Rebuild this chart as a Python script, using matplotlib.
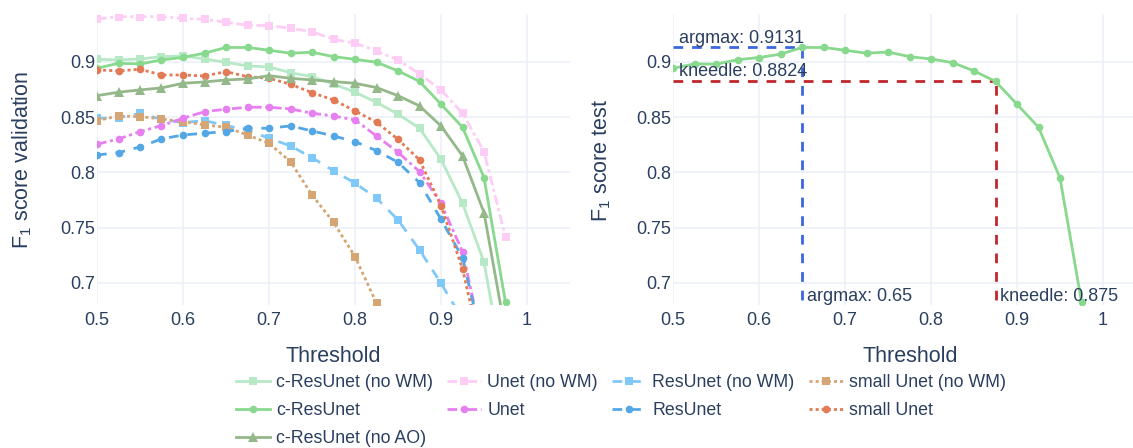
import matplotlib
matplotlib.use("Agg")
import matplotlib.pyplot as plt
from matplotlib.lines import Line2D

plt.rcParams['font.family'] = ['Liberation Sans', 'DejaVu Sans']
plt.rcParams['mathtext.fontset'] = 'custom'
plt.rcParams['mathtext.rm'] = 'Liberation Sans'
plt.rcParams['mathtext.default'] = 'regular'

TXT = '#2a3f5f'
GRID = '#EBF0F8'

thresholds = [0.5, 0.525, 0.55, 0.575, 0.6, 0.625, 0.65, 0.675, 0.7, 0.725,
              0.75, 0.775, 0.8, 0.825, 0.85, 0.875, 0.9, 0.925, 0.95, 0.975]

cresunet_nowm = [0.9024, 0.9018, 0.9027, 0.9048, 0.9054, 0.9027, 0.8997, 0.8964, 0.8955, 0.8903,
                 0.8867, 0.8800, 0.8726, 0.8635, 0.8527, 0.8400, 0.8119, 0.7721, 0.7187, 0.611]
unet_nowm = [0.9389, 0.9410, 0.9410, 0.9410, 0.9395, 0.9386, 0.9360, 0.9332, 0.9329, 0.9305,
             0.9274, 0.9205, 0.9170, 0.9100, 0.9018, 0.8891, 0.8747, 0.8536, 0.8188, 0.7414]
resunet_nowm = [0.8490, 0.8494, 0.8536, 0.8480, 0.8451, 0.8469, 0.8425, 0.8380, 0.8310, 0.8240,
                0.8134, 0.8015, 0.7903, 0.7767, 0.7570, 0.7299, 0.6997, 0.667, 0.60, 0.50]
smallunet_nowm = [0.8469, 0.8511, 0.8505, 0.8484, 0.8460, 0.8430, 0.8409, 0.8339, 0.8264, 0.8097,
                  0.7796, 0.7549, 0.7238, 0.6816, 0.62, 0.55, 0.45, 0.35, 0.25, 0.15]
cresunet = [0.8943, 0.8988, 0.8982, 0.9018, 0.9042, 0.9079, 0.9131, 0.9131, 0.9106, 0.9079,
            0.9088, 0.9048, 0.9024, 0.8997, 0.8919, 0.8824, 0.8617, 0.8409, 0.7953, 0.6825]
unet = [0.8255, 0.8303, 0.8369, 0.8424, 0.8490, 0.8550, 0.8572, 0.8590, 0.8590, 0.8575,
        0.8536, 0.8511, 0.8475, 0.8330, 0.8183, 0.8007, 0.7720, 0.7283, 0.64, 0.55]
resunet = [0.8158, 0.8179, 0.8231, 0.8303, 0.8339, 0.8355, 0.8369, 0.8400, 0.8400, 0.8421,
           0.8376, 0.8330, 0.8279, 0.8197, 0.8092, 0.7908, 0.7576, 0.7229, 0.64, 0.55]
smallunet = [0.8928, 0.8919, 0.8934, 0.8882, 0.8882, 0.8873, 0.8912, 0.8867, 0.8852, 0.8798,
             0.8722, 0.8656, 0.8557, 0.8454, 0.8300, 0.8113, 0.7700, 0.7127, 0.628, 0.55]
cresunet_noao = [0.8695, 0.8726, 0.8747, 0.8765, 0.8807, 0.8819, 0.8837, 0.8846, 0.8876, 0.8852,
                 0.8837, 0.8822, 0.8807, 0.8768, 0.8695, 0.8602, 0.8421, 0.8150, 0.7636, 0.655]

test_cresunet = [0.8943, 0.8982, 0.8980, 0.9020, 0.9040, 0.9070, 0.9131, 0.9131, 0.9106, 0.9079,
                 0.9090, 0.9048, 0.9027, 0.8994, 0.8919, 0.8824, 0.8617, 0.8409, 0.7950, 0.6830]

argmax_thr, argmax_val = 0.65, 0.9131
kneedle_thr, kneedle_val = 0.875, 0.8824

x_ticks = [0.5, 0.6, 0.7, 0.8, 0.9, 1.0]
x_ticklabels = ['0.5', '0.6', '0.7', '0.8', '0.9', '1']
y_ticks = [0.7, 0.75, 0.8, 0.85, 0.9]
y_ticklabels = ['0.7', '0.75', '0.8', '0.85', '0.9']

DASH = (0, (3.5, 3.2))
DOT = (0, (1.1, 1.1))
DASHDOT = (0, (3.5, 1.3, 1.1, 1.3))

series = [
    ('c-ResUnet (no WM)', cresunet_nowm, '#B7E9C7', '-', 's', 5.3),
    ('Unet (no WM)', unet_nowm, '#FDCDF6', DASHDOT, 's', 5.3),
    ('ResUnet (no WM)', resunet_nowm, '#80C8F8', DASH, 's', 5.3),
    ('small Unet (no WM)', smallunet_nowm, '#D5A674', DOT, 's', 5.3),
    ('c-ResUnet', cresunet, '#88D98E', '-', 'o', 5.5),
    ('Unet', unet, '#E67FF0', DASHDOT, 'o', 5.5),
    ('ResUnet', resunet, '#53A7E5', DASH, 'o', 5.5),
    ('small Unet', smallunet, '#E27A55', DOT, 'o', 5.5),
    ('c-ResUnet (no AO)', cresunet_noao, '#94B88A', '-', '^', 7.5),
]

W, H = 1133, 448
fig = plt.figure(figsize=(W / 100, H / 100), dpi=100)

ax_top, ax_bot = 14, 305
pw = 473
ax1 = fig.add_axes([97 / W, 1 - ax_bot / H, pw / W, (ax_bot - ax_top) / H])
ax2 = fig.add_axes([673 / W, 1 - ax_bot / H, pw / W, (ax_bot - ax_top) / H])

for ax in (ax1, ax2):
    ax.set_xlim(0.5, 1.05)
    ax.set_ylim(0.680, 0.9434)
    ax.set_xticks(x_ticks)
    ax.set_xticklabels(x_ticklabels)
    ax.set_yticks(y_ticks)
    ax.set_yticklabels(y_ticklabels)
    ax.grid(True, color=GRID, linewidth=1.1)
    ax.set_axisbelow(True)
    for s in ax.spines.values():
        s.set_visible(False)
    ax.tick_params(length=0, colors=TXT, labelsize=13)
    ax.tick_params(axis='x', pad=5.0)
    ax.tick_params(axis='y', pad=1.0)

handles = {}
for name, vals, col, ls, mk, ms in series:
    ln, = ax1.plot(thresholds, vals, color=col, linestyle=ls, linewidth=2.0,
                   marker=mk, markersize=ms, markeredgewidth=0, label=name)
    handles[name] = ln

# Right panel
gcol = '#88D98E'
ax2.plot(thresholds, test_cresunet, color=gcol, linewidth=2.0, marker='o',
         markersize=5.5, markeredgewidth=0, zorder=3)
blue = '#3A66E0'
red = '#C0262B'
ax2.plot([0.5, argmax_thr], [argmax_val, argmax_val], color=blue, linestyle=DASH, linewidth=2.0, zorder=2)
ax2.plot([argmax_thr, argmax_thr], [0.6, argmax_val], color=blue, linestyle=DASH, linewidth=2.0, zorder=2)
ax2.plot([0.5, kneedle_thr], [kneedle_val, kneedle_val], color=red, linestyle=DASH, linewidth=2.0, zorder=2)
ax2.plot([kneedle_thr, kneedle_thr], [0.6, kneedle_val], color=red, linestyle=DASH, linewidth=2.0, zorder=2)

AFS = 13
ax2.annotate(f'argmax: {argmax_val:.4f}', xy=(0.5, argmax_val), xytext=(6, 4),
             textcoords='offset pixels', color=TXT, fontsize=AFS, va='baseline', ha='left')
ax2.annotate(f'kneedle: {kneedle_val:.4f}', xy=(0.5, kneedle_val), xytext=(6, 5),
             textcoords='offset pixels', color=TXT, fontsize=AFS, va='baseline', ha='left')
ax2.annotate(f'argmax: {argmax_thr}', xy=(argmax_thr, 0), xycoords=('data', 'axes fraction'),
             xytext=(5, 4), textcoords='offset pixels', color=TXT, fontsize=AFS,
             va='baseline', ha='left', annotation_clip=False)
ax2.annotate(f'kneedle: {kneedle_thr}', xy=(kneedle_thr, 0), xycoords=('data', 'axes fraction'),
             xytext=(5, 4), textcoords='offset pixels', color=TXT, fontsize=AFS,
             va='baseline', ha='left', annotation_clip=False)

# Axis titles
TFS = 15.5
fig.text(22 / W, 1 - 160 / H, 'F$_1$ score validation', rotation=90, va='center', ha='center',
         color=TXT, fontsize=TFS)
fig.text(602 / W, 1 - 160 / H, 'F$_1$ score test', rotation=90, va='center', ha='center',
         color=TXT, fontsize=TFS)
fig.text(333 / W, 1 - 362 / H, 'Threshold', ha='center', va='baseline', color=TXT, fontsize=TFS)
fig.text(910 / W, 1 - 362 / H, 'Threshold', ha='center', va='baseline', color=TXT, fontsize=TFS)

blank = Line2D([], [], alpha=0)
order = ['c-ResUnet (no WM)', 'c-ResUnet', 'c-ResUnet (no AO)',
         'Unet (no WM)', 'Unet', None,
         'ResUnet (no WM)', 'ResUnet', None,
         'small Unet (no WM)', 'small Unet', None]
lh = [handles[n] if n else blank for n in order]
ll = [n if n else '' for n in order]
leg = fig.legend(lh, ll, loc='upper center', bbox_to_anchor=(621 / W, 1 - 374 / H), ncol=4,
                 frameon=False, fontsize=12.8, handlelength=1.9, handletextpad=0.35,
                 columnspacing=0.8, labelspacing=0.62, borderpad=0, borderaxespad=0)
for t in leg.get_texts():
    t.set_color(TXT)

fig.savefig('out.png', dpi=100)
